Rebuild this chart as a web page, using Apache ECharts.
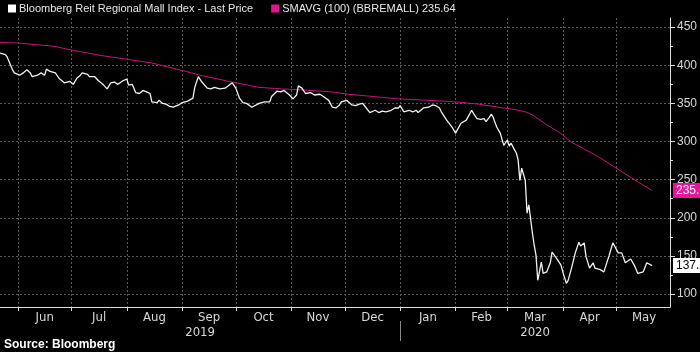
<!DOCTYPE html>
<html>
<head>
<meta charset="utf-8">
<script src="https://cdn.jsdelivr.net/npm/echarts@6/dist/echarts.min.js"></script>
<style>
  html, body { margin: 0; padding: 0; background: #000; }
  #chart { width: 700px; height: 352px; }
</style>
</head>
<body>
<div id="chart"></div>
<script>
// range shown on the date axis
var startDate = '2019-05-22';
var endDate = '2020-05-31';

// month boundaries and labels
var monthStarts = ['2019-06-01', '2019-07-01', '2019-08-01', '2019-09-01', '2019-10-01', '2019-11-01',
  '2019-12-01', '2020-01-01', '2020-02-01', '2020-03-01', '2020-04-01', '2020-05-01', '2020-06-01'];
var monthNames = ['Jun', 'Jul', 'Aug', 'Sep', 'Oct', 'Nov', 'Dec', 'Jan', 'Feb', 'Mar', 'Apr', 'May'];
var yearLabels = ['2019', '2020'];
var yearStart = '2020-01-01';
var yTicks = [100, 150, 200, 250, 300, 350, 400, 450];
var yMinorTicks = [125, 175, 225, 275, 325, 375, 425];

// last price, days counted from startDate
var priceDays = [0, 3, 4, 7, 8, 11, 13, 15, 17, 18, 21, 23, 25, 26, 28, 31, 33, 36, 37, 39, 41, 43, 45, 46, 49, 50,
  53, 55, 58, 60, 62, 64, 66, 69, 71, 72, 74, 76, 78, 80, 82, 84, 85, 88, 89, 91, 93, 95, 97, 98, 100, 102, 105,
  108, 109, 111, 113, 116, 118, 120, 123, 126, 127, 130, 132, 134, 136, 138, 141, 142, 145, 148, 151, 152, 155,
  157, 159, 162, 164, 166, 167, 169, 171, 174, 176, 179, 181, 184, 186, 188, 190, 191, 194, 195, 197, 199, 201,
  203, 205, 207, 208, 210, 212, 214, 216, 219, 221, 223, 224, 226, 227, 229, 231, 233, 234, 237, 240, 242, 244,
  246, 247, 250, 251, 253, 255, 256, 258, 261, 262, 264, 265, 267, 269, 271, 272, 274, 275, 276, 278, 280, 282,
  284, 285, 286, 288, 289, 290, 291, 292, 294, 295, 296, 298, 299, 300, 301, 303, 304, 306, 308, 309, 310, 312,
  314, 315, 317, 318, 320, 322, 324, 325, 327, 328, 330, 332, 333, 336, 338, 341, 343, 344, 346, 348, 350, 353,
  355, 357, 360, 362, 365];
var priceValues = [416, 414, 411, 394, 390, 387, 390, 394, 390, 385, 387, 390, 387, 395, 392, 390, 383, 377, 378,
  379, 375, 383, 387, 390, 388, 385, 385, 380, 374, 369, 377, 378, 375, 380, 382, 374, 375, 364, 363, 367, 365,
  363, 352, 351, 354, 350, 349, 346, 345, 344, 348, 351, 353, 357, 371, 385, 378, 370, 369, 371, 369, 370, 372,
  377, 370, 357, 351, 350, 345, 346, 350, 352, 352, 359, 366, 365, 367, 361, 356, 361, 373, 370, 363, 364, 361,
  362, 359, 354, 345, 344, 348, 352, 354, 352, 348, 347, 349, 350, 344, 338, 339, 341, 338, 340, 339, 341, 344,
  344, 347, 339, 339, 341, 339, 341, 338, 344, 345, 348, 347, 344, 339, 328, 326, 319, 311, 313, 324, 328, 330,
  341, 337, 330, 329, 330, 326, 332, 336, 332, 319, 311, 295, 302, 294, 298, 289, 285, 276, 249, 265, 249, 206,
  217, 180, 164, 151, 118, 142, 127, 129, 141, 155, 154, 145, 138, 129, 114, 118, 135, 154, 168, 163, 167, 149,
  134, 141, 134, 132, 129, 151, 167, 163, 154, 154, 141, 146, 138, 127, 129, 141, 137.29];

// 100 day moving average
var smaDays = [0, 11, 30, 40, 56, 71, 85, 99, 112, 130, 145, 158, 167, 186, 195, 223, 240, 255, 268, 279, 288,
  294, 298, 306, 313, 320, 335, 353, 365];
var smaValues = [430, 429, 425, 420, 413, 408, 403, 395, 387, 378, 371, 369, 368, 365, 362, 356, 354, 352, 349,
  345, 342, 339, 335, 322, 312, 299, 280, 253, 235.64];

var DAY = 86400000;
function ts(s) {
  var p = s.split('-');
  return Date.UTC(+p[0], +p[1] - 1, +p[2]);
}
var t0 = ts(startDate);
var t1 = ts(endDate);
var tickVals = monthStarts.map(ts).filter(function (t) { return t <= t1; });
var midVals = monthNames.map(function (m, i) {
  return (ts(monthStarts[i]) + ts(monthStarts[i + 1])) / 2;
});
var ty = ts(yearStart);
var yearMids = [(t0 + ty) / 2, (ty + t1) / 2];

var priceData = priceDays.map(function (d, i) { return [t0 + d * DAY, priceValues[i]]; });
var smaData = smaDays.map(function (d, i) { return [t0 + d * DAY, smaValues[i]]; });

var font = "'Liberation Sans', Arial, sans-serif";
var narrow = "'Liberation Sans Narrow', 'DejaVu Sans Condensed', sans-serif";

function lastTag(value, bg, fg) {
  return {
    silent: true,
    symbol: 'none',
    lineStyle: { color: 'rgba(0,0,0,0)', width: 0 },
    label: {
      show: true,
      position: 'end',
      distance: 3,
      color: fg,
      backgroundColor: bg,
      padding: [2, 3, 1, 3],
      fontSize: 12,
      fontFamily: font,
      formatter: function () { return value.toFixed(2); },
    },
    data: [{ yAxis: value }],
  };
}

var chart = echarts.init(document.getElementById('chart'));
chart.setOption({
  backgroundColor: '#000',
  animation: false,
  title: {
    text: 'Source: Bloomberg',
    left: 4,
    bottom: 1,
    padding: 0,
    textStyle: { color: '#fff', fontSize: 12, fontWeight: 'bold', fontFamily: font },
  },
  legend: {
    left: 8,
    top: 3,
    padding: 0,
    itemWidth: 8,
    itemHeight: 8,
    itemGap: 18,
    icon: 'rect',
    textStyle: { color: '#e8e8e8', fontSize: 11, fontFamily: font, padding: [0, 0, 0, -2] },
    data: ['Bloomberg Reit Regional Mall Index - Last Price', 'SMAVG (100) (BBREMALL) 235.64'],
  },
  grid: { left: 0, right: 29, top: 18, bottom: 45 },
  xAxis: [
    {
      type: 'value',
      min: t0,
      max: t1,
      axisLine: { show: true, lineStyle: { color: '#ddd', width: 1 } },
      axisTick: { show: true, length: 4, customValues: tickVals, lineStyle: { color: '#ddd' } },
      axisLabel: {
        customValues: midVals,
        color: '#d8d8d8',
        fontSize: 13,
        fontFamily: narrow,
        margin: 4,
        formatter: function (v) { return monthNames[midVals.indexOf(v)] || ''; },
      },
      splitLine: { show: true, lineStyle: { color: '#5a5a5a', type: [2, 2], width: 1 } },
    },
    {
      type: 'value',
      min: t0,
      max: t1,
      position: 'bottom',
      offset: 14,
      axisLine: { show: false },
      axisTick: { show: true, length: 20, customValues: [ty], lineStyle: { color: '#888' } },
      axisLabel: {
        customValues: yearMids,
        color: '#d8d8d8',
        fontSize: 13,
        fontFamily: narrow,
        margin: 5,
        formatter: function (v) { return yearLabels[yearMids.indexOf(v)] || ''; },
      },
      splitLine: { show: false },
    },
  ],
  yAxis: [
    {
      type: 'value',
      position: 'right',
      min: 83,
      max: 462,
      axisLine: { show: true, lineStyle: { color: '#ddd', width: 1 } },
      axisTick: { show: true, length: 5, customValues: yTicks, lineStyle: { color: '#ddd' } },
      axisLabel: { customValues: yTicks, color: '#d8d8d8', fontSize: 12, fontFamily: font, margin: 7 },
      splitLine: { show: true, lineStyle: { color: '#5a5a5a', type: [2, 2], width: 1 } },
    },
    {
      type: 'value',
      position: 'right',
      min: 83,
      max: 462,
      axisLine: { show: false },
      axisTick: { show: true, length: 3, customValues: yMinorTicks, lineStyle: { color: '#ddd' } },
      axisLabel: { show: false },
      splitLine: { show: false },
    },
  ],
  series: [
    {
      name: 'Bloomberg Reit Regional Mall Index - Last Price',
      type: 'line',
      data: priceData,
      showSymbol: false,
      symbol: 'none',
      itemStyle: { color: '#fff' },
      lineStyle: { color: '#f2f2f2', width: 1.3 },
      z: 3,
      markLine: lastTag(priceValues[priceValues.length - 1], '#fff', '#000'),
    },
    {
      name: 'SMAVG (100) (BBREMALL) 235.64',
      type: 'line',
      data: smaData,
      showSymbol: false,
      symbol: 'none',
      itemStyle: { color: '#e0148f' },
      lineStyle: { color: '#c8127a', width: 1 },
      z: 2,
      markLine: lastTag(smaValues[smaValues.length - 1], '#e5169a', '#fff'),
    },
  ],
});
</script>
</body>
</html>
